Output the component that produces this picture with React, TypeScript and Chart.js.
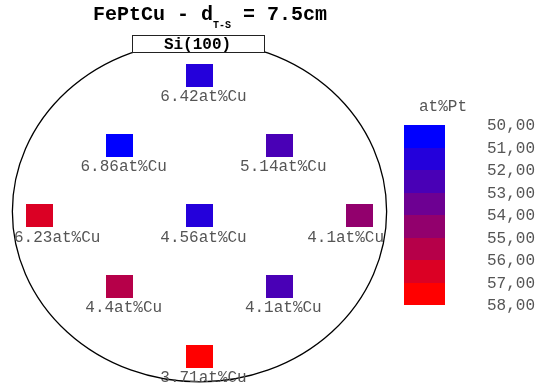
import { useEffect, useRef } from "react";
import { Chart, registerables } from "chart.js";

Chart.register(...registerables);

// Sample positions on the wafer (mm)
const sampleX = [0, -20, 20, -40, 0, 40, -20, 20, 0];
const sampleY = [40, 20, 20, 0, 0, 0, -20, -20, -40];
// Pt content (at%) -> colour of each square
const ptContent = [51.5, 50.5, 52.5, 56.5, 51.5, 54.5, 55.5, 52.5, 57.5];
// Cu content (at%) -> label under each square
const cuContent = [6.42, 6.86, 5.14, 6.23, 4.56, 4.1, 4.4, 4.1, 3.71];
// Colour scale
const ptBins = [50, 51, 52, 53, 54, 55, 56, 57, 58];
const binColors = [
  "#0000ff",
  "#2400db",
  "#4900b6",
  "#6d0092",
  "#92006d",
  "#b60049",
  "#db0024",
  "#ff0000",
];

const titleMain = "FePtCu - d";
const titleSub = "T-S";
const titleTail = " = 7.5cm";
const flatLabel = "Si(100)";
const legendTitle = "at%Pt";

// wafer geometry (mm)
const WAFER_CY = 1.2;
const WAFER_RX = 46.9;
const WAFER_RY = 48.5;
const FLAT_X0 = -17;
const FLAT_X1 = 16.1;
const FLAT_Y0 = 51.4;
const FLAT_Y1 = 46.6;

const MONO = '"Liberation Mono", "DejaVu Sans Mono", monospace';

function colorFor(v: number): string {
  for (let i = 0; i < binColors.length; i++) {
    if (v >= ptBins[i] && v < ptBins[i + 1]) return binColors[i];
  }
  return binColors[binColors.length - 1];
}

const waferPlugin = {
  id: "wafer",
  beforeDatasetsDraw(chart: any) {
    const ctx = chart.ctx;
    const xs = chart.scales.x;
    const ys = chart.scales.y;
    const cx = xs.getPixelForValue(0);
    const cy = ys.getPixelForValue(WAFER_CY);
    const rx = xs.getPixelForValue(WAFER_RX) - cx;
    const ry = cy - ys.getPixelForValue(WAFER_CY + WAFER_RY);
    ctx.save();
    ctx.beginPath();
    ctx.ellipse(cx, cy, rx, ry, 0, 0, Math.PI * 2);
    ctx.strokeStyle = "#000";
    ctx.lineWidth = 1.3;
    ctx.stroke();
    // flat label box
    const bx0 = Math.round(xs.getPixelForValue(FLAT_X0)) + 0.5;
    const bx1 = Math.round(xs.getPixelForValue(FLAT_X1)) + 0.5;
    const by0 = Math.round(ys.getPixelForValue(FLAT_Y0)) + 0.5;
    const by1 = Math.round(ys.getPixelForValue(FLAT_Y1)) + 0.5;
    ctx.fillStyle = "#fff";
    ctx.fillRect(bx0, by0, bx1 - bx0, by1 - by0);
    ctx.strokeStyle = "#222";
    ctx.lineWidth = 1;
    ctx.strokeRect(bx0, by0, bx1 - bx0, by1 - by0);
    ctx.fillStyle = "#000";
    ctx.font = `bold 16px ${MONO}`;
    ctx.textAlign = "center";
    ctx.textBaseline = "alphabetic";
    ctx.fillText(flatLabel, (bx0 + bx1) / 2 - 1, by1 - 4);
    ctx.restore();
  },
  afterDatasetsDraw(chart: any) {
    const ctx = chart.ctx;
    const meta = chart.getDatasetMeta(0);
    const area = chart.chartArea;
    ctx.save();
    meta.data.forEach((pt: any, i: number) => {
      const px = pt.x;
      const py = pt.y;
      ctx.fillStyle = colorFor(ptContent[i]);
      ctx.fillRect(Math.round(px - 13.5), Math.round(py - 11.5), 27, 23);
    });
    ctx.font = `16px ${MONO}`;
    ctx.fillStyle = "#555";
    ctx.textAlign = "left";
    ctx.textBaseline = "alphabetic";
    meta.data.forEach((pt: any, i: number) => {
      const txt = `${cuContent[i]}at%Cu`;
      const w = ctx.measureText(txt).width;
      let left = pt.x + 4 - w / 2;
      const minL = area.left + 14;
      const maxR = area.right - 15;
      if (left < minL) left = minL;
      if (left + w > maxR) left = maxR - w;
      ctx.fillText(txt, left, pt.y + 26);
    });
    ctx.restore();
  },
  afterDraw(chart: any) {
    const ctx = chart.ctx;
    const area = chart.chartArea;
    ctx.save();
    // title
    ctx.fillStyle = "#000";
    ctx.textBaseline = "alphabetic";
    ctx.textAlign = "left";
    ctx.font = `bold 20px ${MONO}`;
    const wMain = ctx.measureText(titleMain).width;
    const wTail = ctx.measureText(titleTail).width;
    ctx.font = `bold 10px ${MONO}`;
    const wSub = ctx.measureText(titleSub).width;
    const total = wMain + wSub + wTail;
    let x = 210 - total / 2;
    ctx.font = `bold 20px ${MONO}`;
    ctx.fillText(titleMain, x, 20);
    x += wMain;
    ctx.font = `bold 10px ${MONO}`;
    ctx.fillText(titleSub, x, 28);
    x += wSub;
    ctx.font = `bold 20px ${MONO}`;
    ctx.fillText(titleTail, x, 20);

    // colour legend
    const barL = area.right + 5;
    const barW = 41;
    const barTop = 125;
    const bandH = 22.5;
    binColors.forEach((c, i) => {
      ctx.fillStyle = c;
      const y0 = Math.round(barTop + i * bandH);
      const y1 = Math.round(barTop + (i + 1) * bandH);
      ctx.fillRect(barL, y0, barW, y1 - y0);
    });
    ctx.fillStyle = "#555";
    ctx.font = `16px ${MONO}`;
    ctx.textAlign = "center";
    ctx.fillText(legendTitle, barL + 39, 111);
    ctx.textAlign = "left";
    ctx.textBaseline = "middle";
    ptBins.forEach((v, i) => {
      ctx.fillText(v.toFixed(2).replace(".", ","), barL + 83, barTop + i * bandH + 1);
    });
    ctx.restore();
  },
};

export default function App() {
  const ref = useRef<HTMLCanvasElement | null>(null);
  useEffect(() => {
    if (!ref.current) return;
    const points = sampleX.map((x, i) => ({ x, y: sampleY[i] }));
    const chart = new Chart(ref.current, {
      type: "scatter",
      data: {
        datasets: [
          {
            label: "samples",
            data: points,
            pointRadius: 0,
            pointHoverRadius: 0,
          },
        ],
      },
      options: {
        animation: false,
        responsive: false,
        devicePixelRatio: 1,
        events: [],
        layout: { padding: { left: 0, right: 139, top: 40, bottom: 2.6 } },
        scales: {
          x: { type: "linear", min: -50, max: 50, display: false },
          y: { type: "linear", min: -48, max: 50, display: false },
        },
        plugins: {
          legend: { display: false },
          tooltip: { enabled: false },
          title: { display: false },
        },
      },
      plugins: [waferPlugin],
    });
    return () => chart.destroy();
  }, []);
  return (
    <div style={{ position: "fixed", left: 0, top: 0, width: 538, height: 387, background: "#fff" }}>
      <canvas ref={ref} width={538} height={387} style={{ display: "block" }} />
    </div>
  );
}
